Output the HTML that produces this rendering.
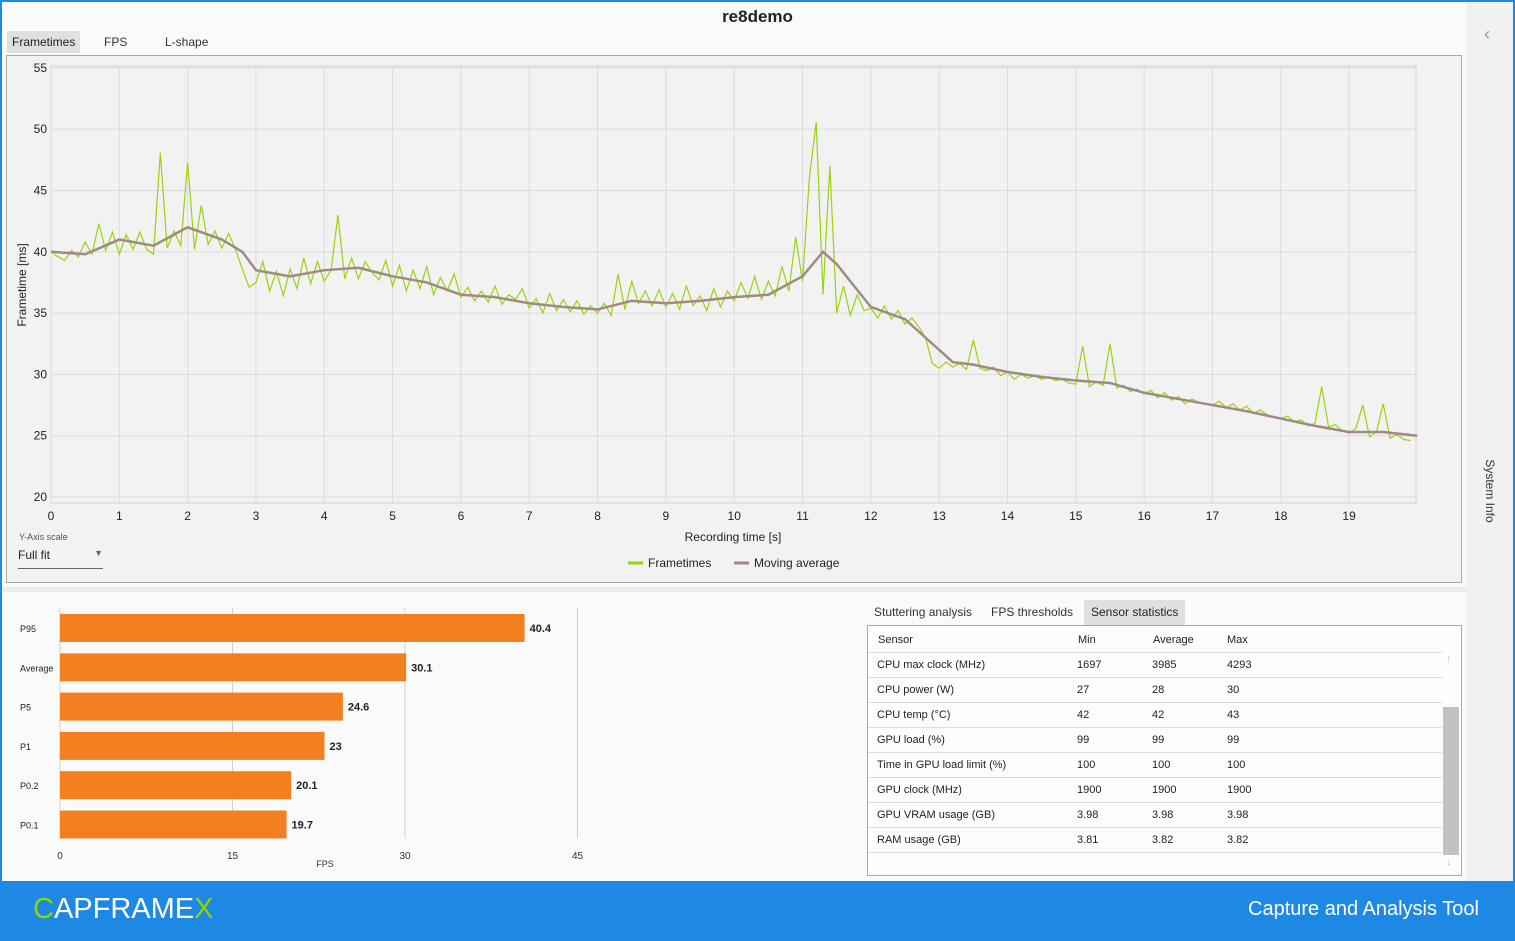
<!DOCTYPE html>
<html><head><meta charset="utf-8">
<style>
body{margin:0;width:1515px;height:941px;overflow:hidden;font-family:"Liberation Sans",sans-serif;background:#1e88e5;position:relative}
.win{position:absolute;left:2px;top:2px;width:1511px;height:879px;background:#fafafa}
.abs{position:absolute}
.tab{position:absolute;top:31px;height:22px;font-size:12px;line-height:22px;color:#333;padding:0 5px}
</style></head><body>
<div class="win"></div>
<div class="abs" style="left:0;width:1515px;top:7px;text-align:center;font-weight:bold;font-size:17px;color:#222">re8demo</div>
<div class="tab" style="left:7px;background:#e0e0e0;color:#222">Frametimes</div>
<div class="tab" style="left:99px">FPS</div>
<div class="tab" style="left:160px">L-shape</div>
<div class="abs" style="left:6px;top:55px;width:1454px;height:526px;border:1px solid #aaa;background:#f2f2f2"></div>
<div class="abs" style="left:1467px;top:2px;width:46px;height:879px;background:#f1f1f1"></div>
<div class="abs" style="left:1484px;top:24px;font-size:18px;color:#999">‹</div>
<div class="abs" style="left:1440px;top:484px;width:100px;text-align:center;font-size:12px;color:#333;transform:rotate(90deg)">System Info</div>
<div class="abs" style="left:2px;top:587px;width:1465px;height:5px;background:#ececec"></div>

<svg class="abs" style="left:0;top:0" width="1515" height="590">
<g id="grid"></g><g id="series"></g><g id="axes"></g>
</svg>
<div class="abs" style="left:19px;top:532px;font-size:9px;color:#555">Y-Axis scale</div>
<div class="abs" style="left:18px;top:548px;width:85px;height:20px;border-bottom:1px solid #666;font-size:12px;color:#222">Full fit<span style="position:absolute;right:0;top:0;font-size:9px;color:#666">▼</span></div>

<svg class="abs" style="left:0;top:592px" width="860" height="288"><g id="bars"></g></svg>

<div class="abs" style="left:868px;top:600px;height:25px;line-height:25px;font-size:12px;color:#333;padding:0 6px">Stuttering analysis</div>
<div class="abs" style="left:985px;top:600px;height:25px;line-height:25px;font-size:12px;color:#333;padding:0 6px">FPS thresholds</div>
<div class="abs" style="left:1084px;top:600px;height:25px;line-height:25px;font-size:12px;color:#222;background:#e0e0e0;padding:0 7px">Sensor statistics</div>
<div class="abs" style="left:867px;top:625px;width:593px;height:249px;border:1px solid #aaa;background:#fdfdfd;font-size:11px;color:#222" id="tbl"></div>

<div class="abs" style="left:33px;top:893px;font-size:29px;color:#fff;letter-spacing:0px;font-family:'Liberation Sans',sans-serif"><span style="color:#8fd400">C</span>APFRAME<span style="color:#8fd400">X</span></div>
<div class="abs" style="left:1248px;top:898px;font-size:20px;color:#fff">Capture and Analysis Tool</div>

<script>
const NS="http://www.w3.org/2000/svg";
const frametimes=[
40,39.6,39.3,40.1,39.6,40.8,39.8,42.3,40.1,41.6,
39.8,41.4,40.2,41.6,40.2,39.8,48.1,40.3,41.7,40.5,
47.3,40.2,43.8,40.6,41.7,40.3,41.5,40.2,38.6,37.1,
37.5,39.2,36.8,38.4,36.4,38.6,37.0,39.5,37.4,39.2,
37.6,38.5,43.0,37.8,39.5,37.8,39.2,38.3,37.7,39.3,
37.2,38.9,36.8,38.5,37.0,38.8,36.5,37.9,36.8,38.2,
36.3,37.1,36.0,36.8,35.9,37.2,35.7,36.5,36.1,37.0,
35.4,36.2,35.0,36.6,35.2,36.1,35.1,36.0,34.9,35.6,
35.0,35.8,34.8,38.2,35.3,37.6,35.8,36.8,35.6,36.9,
35.5,36.6,35.3,37.2,35.6,36.4,35.2,37.0,35.5,36.8,
36.0,37.5,36.2,38.0,36.1,37.6,36.4,38.8,36.8,41.2,
37.6,46.0,50.6,36.5,47.0,35.0,37.2,34.8,36.5,35.2,
35.4,34.6,35.6,34.5,35.2,34.1,34.6,33.9,33.0,30.9,
30.5,31.0,30.6,30.9,30.4,32.8,30.5,30.3,30.6,29.9,
30.2,29.6,30.0,29.7,29.9,29.6,29.8,29.5,29.6,29.3,
29.2,32.3,29.0,29.4,29.1,32.5,28.9,29.1,28.6,28.8,
28.4,28.7,28.1,28.5,27.9,28.2,27.6,28.0,27.7,27.6,
27.5,27.8,27.3,27.6,27.1,27.4,26.8,27.1,26.7,26.5,
26.4,26.6,26.1,26.3,25.8,26.0,29.0,25.7,25.9,25.4,
25.2,25.6,27.5,24.9,25.3,27.6,24.8,25.1,24.7,24.6];
const ftStep=0.1;
const maTimes=[0,0.5,1,1.5,2,2.5,2.8,3,3.5,4,4.5,5,5.5,6,6.5,7,7.5,8,8.5,9,9.5,10,10.5,11,11.3,11.5,12,12.5,12.8,13.2,13.5,14,14.5,15,15.5,16,16.5,17,17.5,18,18.5,19,19.5,20];
const maValues=[40,39.8,41,40.5,42,41,40,38.5,38,38.5,38.7,38,37.5,36.5,36.3,35.8,35.5,35.3,36,35.8,36,36.3,36.5,38,40,39,35.5,34.5,33,31,30.8,30.2,29.8,29.5,29.3,28.5,28,27.5,27,26.4,25.8,25.3,25.3,25];
const xTicks=[0,1,2,3,4,5,6,7,8,9,10,11,12,13,14,15,16,17,18,19];
const yTicks=[20,25,30,35,40,45,50,55];
const X0=51,XS=68.32,Y0=497,YS=12.26;
const sx=t=>X0+t*XS, sy=v=>Y0-(v-20)*YS;
function mk(tag,parent,attrs){const e=document.createElementNS(NS,tag);for(const k in attrs)e.setAttribute(k,attrs[k]);parent.appendChild(e);return e;}
const grid=document.getElementById('grid'),ser=document.getElementById('series'),ax=document.getElementById('axes');
const bg=mk('rect',grid,{x:51,y:66,width:1365,height:437,fill:'#f2f2f2',stroke:'#d0d0d0'});


xTicks.forEach(t=>{
 const l=mk('line',grid,{x1:sx(t),x2:sx(t),y1:66,y2:503,stroke:'#dcdcdc'});
 
 
 const tx=mk('text',ax,{x:sx(t),y:520,'font-size':12,'text-anchor':'middle',fill:'#222'});tx.textContent=t;
 
 
});
yTicks.forEach(v=>{
 const l=mk('line',grid,{x1:51,x2:1416,y1:sy(v),y2:sy(v),stroke:'#dcdcdc'});
 
 
 const tx=mk('text',ax,{x:47,y:sy(v)+4,'font-size':12,'text-anchor':'end',fill:'#222'});tx.textContent=v;
 
 
});
const p1=mk('polyline',ser,{points:frametimes.map((v,i)=>sx(i*ftStep)+','+sy(v)).join(' '),fill:'none',stroke:'#9bd30f','stroke-width':1.2});


const p2=mk('polyline',ser,{points:maValues.map((v,i)=>sx(maTimes[i])+','+sy(v)).join(' '),fill:'none',stroke:'#a08a82','stroke-width':2.5});


let t=mk('text',ax,{x:733,y:541,'font-size':12,'text-anchor':'middle',fill:'#222'});t.textContent='Recording time [s]';


t=mk('text',ax,{x:0,y:0,'font-size':12,'text-anchor':'middle',fill:'#222',transform:'translate(26,285) rotate(-90)'});t.textContent='Frametime [ms]';


const lg1=mk('line',ax,{x1:628,x2:643,y1:563,y2:563,stroke:'#9bd30f','stroke-width':3});


t=mk('text',ax,{x:648,y:567,'font-size':12,fill:'#222'});t.textContent='Frametimes';


const lg2=mk('line',ax,{x1:734,x2:749,y1:563,y2:563,stroke:'#a08a82','stroke-width':3});


t=mk('text',ax,{x:754,y:567,'font-size':12,fill:'#222'});t.textContent='Moving average';



// bar chart
const barLabels=['P95','Average','P5','P1','P0.2','P0.1'];
const barValues=[40.4,30.1,24.6,23,20.1,19.7];
const fpsTicks=[0,15,30,45];
const B0=60,BS=11.5,bt=v=>B0+v*BS;
const bars=document.getElementById('bars');
fpsTicks.forEach(v=>{
 const l=mk('line',bars,{x1:bt(v),x2:bt(v),y1:16,y2:246,stroke:'#d0d0d0'});
 
 
 const tx=mk('text',bars,{x:bt(v),y:267,'font-size':10,'text-anchor':'middle',fill:'#333'});tx.textContent=v;
 
 
});
barLabels.forEach((lab,i)=>{
 const cy=36+i*39.3;
 const r=mk('rect',bars,{x:B0,y:cy-14,width:barValues[i]*BS,height:28,fill:'#f28021'});
 
 
 const a=mk('text',bars,{x:20,y:cy+4,'font-size':9,fill:'#222'});a.textContent=lab;
 
 
 const b=mk('text',bars,{x:bt(barValues[i])+5,y:cy+4,'font-size':11,'font-weight':'bold',fill:'#222'});b.textContent=barValues[i];
 
 
});
t=mk('text',bars,{x:325,y:275,'font-size':9,'text-anchor':'middle',fill:'#333'});t.textContent='FPS';



// table
const rows=[['CPU max clock (MHz)','1697','3985','4293'],['CPU power (W)','27','28','30'],['CPU temp (°C)','42','42','43'],['GPU load (%)','99','99','99'],['Time in GPU load limit (%)','100','100','100'],['GPU clock (MHz)','1900','1900','1900'],['GPU VRAM usage (GB)','3.98','3.98','3.98'],['RAM usage (GB)','3.81','3.82','3.82']];
const tbl=document.getElementById('tbl');
let h='<div style="position:absolute;left:0;top:0;width:574px;height:26px;border-bottom:1px solid #ddd"><span style="position:absolute;left:10px;top:8px">Sensor</span><span style="position:absolute;left:210px;top:8px">Min</span><span style="position:absolute;left:285px;top:8px">Average</span><span style="position:absolute;left:359px;top:8px">Max</span></div>';
rows.forEach((r,i)=>{h+='<div style="position:absolute;left:0;top:'+(27+i*25)+'px;width:574px;height:24px;border-bottom:1px solid #ddd"><span style="position:absolute;left:9px;top:6px">'+r[0]+'</span><span style="position:absolute;left:209px;top:6px">'+r[1]+'</span><span style="position:absolute;left:284px;top:6px">'+r[2]+'</span><span style="position:absolute;left:359px;top:6px">'+r[3]+'</span></div>';});
h+='<div style="position:absolute;left:575px;top:81px;width:16px;height:148px;background:#c2c2c2"></div>';
h+='<div style="position:absolute;left:578px;top:28px;font-size:10px;color:#bbb">↑</div><div style="position:absolute;left:578px;top:231px;font-size:10px;color:#bbb">↓</div>';
tbl.innerHTML=h;
</script>
</body></html>
